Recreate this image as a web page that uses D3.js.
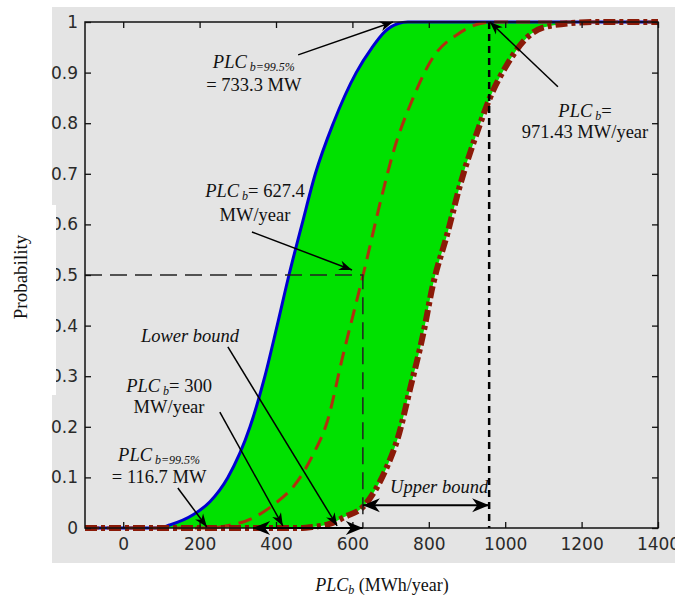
<!DOCTYPE html>
<html>
<head>
<meta charset="utf-8">
<script src="https://cdn.jsdelivr.net/npm/d3@7/dist/d3.min.js"></script>
<style>
  body { margin: 0; background: #fff; }
  svg { display: block; }
</style>
</head>
<body>
<svg id="chart" width="675" height="603"></svg>
<script>
// lower bound CDF (blue, solid)
var lowerX = [-100, 90, 122, 183, 227, 274, 332, 371, 403, 434, 468, 503, 550, 610, 651, 685, 720, 745, 1400];
var lowerP = [0, 0, 0.006, 0.026, 0.052, 0.1, 0.2, 0.3, 0.4, 0.5, 0.6, 0.7, 0.8, 0.9, 0.949, 0.981, 0.997, 1, 1];
// expected CDF (red, dashed)
var meanX = [-100, 230, 261, 340, 392, 455, 497, 534, 575, 628, 680, 706, 759, 811, 874, 935, 965, 1400];
var meanP = [0, 0, 0.003, 0.02, 0.045, 0.091, 0.145, 0.21, 0.34, 0.5, 0.665, 0.74, 0.85, 0.93, 0.975, 0.997, 1, 1];
// upper bound CDF (dark red, dash-dot)
var upperX = [-100, 470, 495, 540, 580, 628, 660, 690, 719, 751, 785, 811, 848, 882, 927, 960, 1005, 1057, 1099, 1196, 1240, 1400];
var upperP = [0, 0, 0.002, 0.008, 0.022, 0.042, 0.075, 0.12, 0.178, 0.275, 0.382, 0.481, 0.58, 0.678, 0.783, 0.85, 0.916, 0.969, 0.989, 0.999, 1, 1];

var xTicks = [0, 200, 400, 600, 800, 1000, 1200, 1400];
var yTicks = [0, 0.1, 0.2, 0.3, 0.4, 0.5, 0.6, 0.7, 0.8, 0.9, 1];

var medianPLC = 627.4,   // where expected CDF hits 0.5
    upperPLC = 958;      // dashed marker near 971.43 label (as drawn)

// arrows: [x, p] from -> to, in data units
var arrows = [
  {from: [458, 0.935], to: [706, 1]},
  {from: [1138, 0.872], to: [960, 1]},
  {from: [337, 0.585], to: [599, 0.51]},
  {from: [274, 0.358], to: [560, 0.004]},
  {from: [253, 0.229], to: [418, 0.004]},
  {from: [143, 0.079], to: [219, 0.002]}
];
var spans = [
  {from: [340, 0], to: [medianPLC, 0]},
  {from: [medianPLC, 0.045], to: [upperPLC, 0.045]}
];

// text parts: i = italic, s = subscript
var labels = [
  {x: 342, p: [0.909, 0.864], lines: [[{t: "PLC", i: 1}, {t: " b=99.5%", i: 1, s: 1}], [{t: "= 733.3 MW"}]]},
  {x: 1209, p: [0.812, 0.771], lines: [[{t: "PLC", i: 1}, {t: " b", i: 1, s: 1}, {t: "="}], [{t: "971.43 MW/year"}]]},
  {x: 345, p: [0.654, 0.607], lines: [[{t: "PLC", i: 1}, {t: " b", i: 1, s: 1}, {t: "= 627.4"}], [{t: "MW/year"}]]},
  {x: 175, p: [0.368], lines: [[{t: "Lower bound", i: 1}]]},
  {x: 120, p: [0.269, 0.227], lines: [[{t: "PLC", i: 1}, {t: " b", i: 1, s: 1}, {t: "= 300"}], [{t: "MW/year"}]]},
  {x: 94, p: [0.132, 0.089], lines: [[{t: "PLC", i: 1}, {t: " b=99.5%", i: 1, s: 1}], [{t: "= 116.7 MW"}]]},
  {x: 827, p: [0.069], lines: [[{t: "Upper bound", i: 1}]]}
];

var bg = "#e4e4e4",
    serif = "'Liberation Serif','Times New Roman',serif";

var svg = d3.select("#chart");
var x = d3.scaleLinear().domain([-100, 1400]).range([85, 658]),
    y = d3.scaleLinear().domain([0, 1]).range([528, 22]);

function pts(xs, ps) { return xs.map(function(v, i) { return [v, ps[i]]; }); }
var lower = pts(lowerX, lowerP), mean = pts(meanX, meanP), upper = pts(upperX, upperP);

svg.append("rect").attr("x", 52).attr("y", 7).attr("width", 623).attr("height", 556).style("fill", bg);

var defs = svg.append("defs");
function head(id, len, hw) {
  defs.append("marker").attr("id", id)
      .attr("markerUnits", "userSpaceOnUse")
      .attr("viewBox", (-len - 1) + " " + (-hw - 1) + " " + (len + 2) + " " + (2 * hw + 2))
      .attr("markerWidth", len + 2).attr("markerHeight", 2 * hw + 2)
      .attr("refX", 0).attr("refY", 0)
      .attr("orient", "auto-start-reverse")
    .append("path")
      .attr("d", "M0,0L" + (-len) + "," + (-hw) + "L" + (-len * 0.7) + ",0L" + (-len) + "," + hw + "Z")
      .style("fill", "#000");
}
head("ah", 13, 5);
head("ahb", 17, 7);

// green band = under lower bound minus under upper bound
var area = d3.area().x(function(d) { return x(d[0]); }).y0(y(0)).y1(function(d) { return y(d[1]); })
    .curve(d3.curveMonotoneX);
var line = d3.line().x(function(d) { return x(d[0]); }).y(function(d) { return y(d[1]); })
    .curve(d3.curveMonotoneX);

svg.append("path").attr("d", area(lower)).style("fill", "#00e100");
svg.append("path").attr("d", area(upper)).style("fill", bg);

svg.append("path").attr("d", line(lower))
    .style("fill", "none").style("stroke", "#0000d2").style("stroke-width", 3);
svg.append("path").attr("d", line(mean))
    .style("fill", "none").style("stroke", "#b0300f").style("stroke-width", 3)
    .style("stroke-dasharray", "14,8");
svg.append("path").attr("d", line(upper))
    .style("fill", "none").style("stroke", "#8b1a08").style("stroke-width", 6)
    .style("stroke-dasharray", "12,4,4,4");

// reference lines
svg.append("path")
    .attr("d", "M" + x(-100) + "," + y(0.5) + "H" + x(medianPLC) + "V" + y(0))
    .style("fill", "none").style("stroke", "#222").style("stroke-width", 1.5)
    .style("stroke-dasharray", "17,8");
svg.append("line")
    .attr("x1", x(upperPLC)).attr("x2", x(upperPLC)).attr("y1", y(1)).attr("y2", y(0))
    .style("stroke", "#000").style("stroke-width", 2.5).style("stroke-dasharray", "7,5");

// frame + ticks
svg.append("rect").attr("x", x(-100)).attr("y", y(1))
    .attr("width", x(1400) - x(-100)).attr("height", y(0) - y(1))
    .style("fill", "none").style("stroke", "#111").style("stroke-width", 1.5);

function styleAxis(g) {
  g.select(".domain").remove();
  g.selectAll(".tick line").style("stroke", "#111").style("stroke-width", 1.3);
  g.selectAll(".tick text").style("font-family", "'DejaVu Sans',sans-serif")
      .style("font-size", "17px").style("fill", "#2a2a2a");
}
svg.append("g").attr("transform", "translate(0," + y(0) + ")")
    .call(d3.axisBottom(x).tickValues(xTicks).tickSizeInner(-6).tickSizeOuter(0).tickPadding(10)
      .tickFormat(d3.format("d")))
    .call(styleAxis);
svg.append("g").attr("transform", "translate(0," + y(1) + ")")
    .call(d3.axisTop(x).tickValues(xTicks).tickSizeInner(-6).tickSizeOuter(0).tickFormat(""))
    .call(styleAxis);
svg.append("g").attr("transform", "translate(" + x(-100) + ",0)")
    .call(d3.axisLeft(y).tickValues(yTicks).tickSizeInner(-6).tickSizeOuter(0).tickPadding(7)
      .tickFormat(function(d) { return d === 0 || d === 1 ? d : d3.format(".1f")(d); }))
    .call(styleAxis);
svg.append("g").attr("transform", "translate(" + x(1400) + ",0)")
    .call(d3.axisRight(y).tickValues(yTicks).tickSizeInner(-6).tickSizeOuter(0).tickFormat(""))
    .call(styleAxis);

// white patch that clips some y tick labels in the original
svg.append("rect").attr("x", 0).attr("y", 205).attr("width", 56).attr("height", 190).style("fill", "#fff");

// arrows
svg.selectAll("line.arrow").data(arrows).enter().append("line")
    .attr("class", "arrow")
    .attr("x1", function(d) { return x(d.from[0]); }).attr("y1", function(d) { return y(d.from[1]); })
    .attr("x2", function(d) { return x(d.to[0]); }).attr("y2", function(d) { return y(d.to[1]); })
    .style("stroke", "#000").style("stroke-width", 1.5)
    .attr("marker-end", "url(#ah)");
svg.selectAll("line.span").data(spans).enter().append("line")
    .attr("class", "span")
    .attr("x1", function(d) { return x(d.from[0]); }).attr("y1", function(d) { return y(d.from[1]); })
    .attr("x2", function(d) { return x(d.to[0]); }).attr("y2", function(d) { return y(d.to[1]); })
    .style("stroke", "#000").style("stroke-width", 2)
    .attr("marker-start", "url(#ahb)").attr("marker-end", "url(#ahb)");

function rich(sel, parts) {
  var sub = false;
  parts.forEach(function(p) {
    var ts = sel.append("tspan").text(p.t).style("font-style", p.i ? "italic" : "normal");
    if (p.s) { ts.style("font-size", "12px"); if (!sub) ts.attr("dy", 3); sub = true; }
    else if (sub) { ts.attr("dy", -3); sub = false; }
  });
}

labels.forEach(function(l) {
  l.lines.forEach(function(parts, k) {
    var t = svg.append("text").attr("x", x(l.x)).attr("y", y(l.p[k]))
        .attr("text-anchor", "middle")
        .style("font-family", serif).style("font-size", "18.5px").style("fill", "#111");
    rich(t, parts);
  });
});

// axis titles
var xt = svg.append("text").attr("x", 382).attr("y", 591).attr("text-anchor", "middle")
    .style("font-family", serif).style("font-size", "18px").style("fill", "#111");
rich(xt, [{t: "PLC", i: 1}, {t: "b", i: 1, s: 1}, {t: " (MWh/year)"}]);

svg.append("text").attr("transform", "translate(27,277) rotate(-90)")
    .attr("text-anchor", "middle")
    .style("font-family", serif).style("font-size", "19px").style("fill", "#111")
    .text("Probability");
</script>
</body>
</html>
